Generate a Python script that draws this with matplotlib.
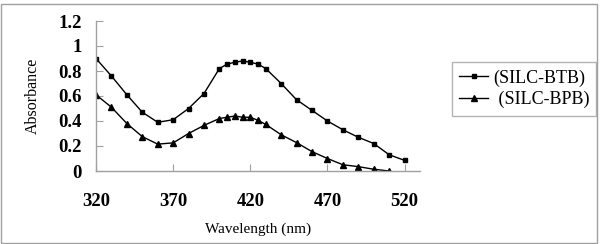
# Imports
import matplotlib
matplotlib.use('Agg')
import matplotlib.pyplot as plt
from matplotlib.patches import Rectangle

# Data
wavelength = [320, 330, 340, 350, 360, 370, 380, 390, 400, 405, 410, 415, 420,
              425, 430, 440, 450, 460, 470, 480, 490, 500, 510, 520]
btb = [0.90, 0.76, 0.61, 0.47, 0.39, 0.41, 0.50, 0.62, 0.82, 0.855, 0.87, 0.88,
       0.87, 0.855, 0.82, 0.70, 0.57, 0.485, 0.40, 0.33, 0.27, 0.22, 0.13, 0.085]
wavelength_bpb = wavelength[:-1]
bpb = [0.61, 0.51, 0.38, 0.275, 0.215, 0.225, 0.30, 0.365, 0.42, 0.43, 0.44, 0.43,
       0.43, 0.405, 0.373, 0.29, 0.227, 0.155, 0.10, 0.05, 0.035, 0.014, 0.0]
xticks = [320, 370, 420, 470, 520]
yticks = [0, 0.2, 0.4, 0.6, 0.8, 1.0, 1.2]
yticklabels = ['0', '0.2', '0.4', '0.6', '0.8', '1', '1.2']

plt.rcParams['font.family'] = ['Liberation Serif', 'DejaVu Serif']

fig = plt.figure(figsize=(6, 2.44), dpi=100)
ax = fig.add_axes([96 / 600, 1 - 171 / 244, (420 - 96) / 600, (171 - 21) / 244])

# Plot both series
ax.plot(wavelength, btb, color='black', lw=1, marker='s', ms=3.3, label='(SILC-BTB)')
ax.plot(wavelength_bpb, bpb, color='black', lw=1, marker='^', ms=4.3, label=' (SILC-BPB)')

ax.set_xlim(320, 530)
ax.set_ylim(0, 1.2)
ax.set_xticks(xticks)
ax.set_yticks(yticks)
ax.set_yticklabels(yticklabels)

# Excel-like axes: only left and bottom, grey, ticks inside
for side in ['top', 'right']:
    ax.spines[side].set_visible(False)
for side in ['left', 'bottom']:
    ax.spines[side].set_color('#a0a0a0')
    ax.spines[side].set_linewidth(1)
ax.tick_params(axis='both', direction='in', color='#a0a0a0', length=5, labelsize=13.5)
ax.tick_params(axis='x', pad=16)
ax.tick_params(axis='y', pad=10)
for lab in ax.get_xticklabels() + ax.get_yticklabels():
    lab.set_fontweight('bold')

ax.set_xlabel('Wavelength (nm)', fontsize=11, labelpad=9)
ax.set_ylabel('Absorbance', fontsize=11.5, labelpad=13)

# Legend box to the right of the plot
leg = ax.legend(loc='upper left', bbox_to_anchor=(452 / 600, 1 - 62 / 244),
                bbox_transform=fig.transFigure, borderaxespad=0, fancybox=False,
                edgecolor='#a0a0a0', fontsize=13, handlelength=1.6,
                handletextpad=0.3, labelspacing=0.25, borderpad=0.4)
leg.get_frame().set_linewidth(1)

# Outer chart border
fig.patches.append(Rectangle((1 / 600, 1 / 244), 596 / 600, 239 / 244,
                             transform=fig.transFigure, fill=False,
                             edgecolor='#a0a0a0', lw=1))

fig.savefig('out.png', dpi=100)
